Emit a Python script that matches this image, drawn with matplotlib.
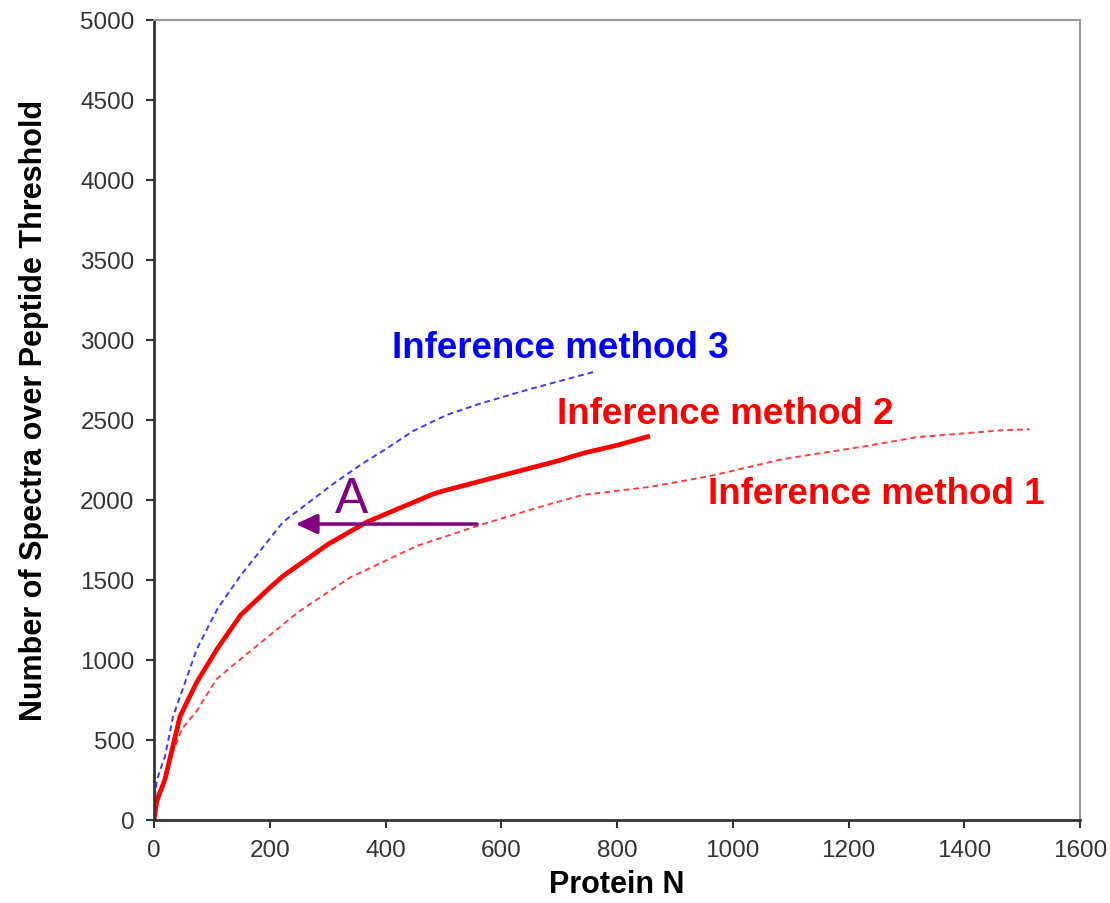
import matplotlib.pyplot as plt

plt.rcParams['font.family'] = ['Liberation Sans', 'DejaVu Sans']

# Inference method 1 (thin dashed red)
m1_x = [0, 20, 48, 74, 108, 171, 250, 339, 454, 569, 684, 741, 857, 961, 1087, 1232, 1318, 1470, 1513]
m1_y = [0, 300, 566, 680, 879, 1067, 1300, 1514, 1711, 1848, 1973, 2030, 2080, 2148, 2254, 2336, 2391, 2435, 2440]

# Inference method 2 (thick solid red)
m2_x = [0, 5, 19, 45, 74, 109, 150, 200, 223, 300, 368, 400, 482, 500, 598, 700, 741, 800, 857]
m2_y = [0, 120, 253, 646, 860, 1067, 1280, 1450, 1523, 1720, 1861, 1910, 2035, 2055, 2148, 2245, 2290, 2340, 2398]

# Inference method 3 (dashed blue)
m3_x = [0, 5, 19, 33, 74, 110, 149, 223, 310, 360, 402, 448, 506, 563, 650, 759]
m3_y = [80, 250, 396, 646, 1067, 1320, 1523, 1861, 2100, 2225, 2320, 2430, 2530, 2600, 2692, 2798]

x_ticks = list(range(0, 1601, 200))
y_ticks = list(range(0, 5001, 500))

fig = plt.figure(figsize=(11.1, 9.04), dpi=100)
ax = fig.add_axes([154 / 1110, 1 - 820.7 / 904, 926 / 1110, 800 / 904])

ax.plot(m1_x, m1_y, color='#ff4040', lw=1.4, dashes=(3, 2))
ax.plot(m3_x, m3_y, color='#3a3aff', lw=1.4, dashes=(3, 2))
ax.plot(m2_x, m2_y, color='#ff0000', lw=3.4, solid_capstyle='butt')

ax.set_xlim(0, 1600)
ax.set_ylim(0, 5000)
ax.set_xticks(x_ticks)
ax.set_yticks(y_ticks)
ax.tick_params(direction='out', length=6, width=1.5, color='#333333',
               labelsize=17.5, labelcolor='#333333', pad=8)

for side in ['left', 'bottom']:
    ax.spines[side].set_color('#333333')
    ax.spines[side].set_linewidth(2)
for side in ['top', 'right']:
    ax.spines[side].set_color('#999999')
    ax.spines[side].set_linewidth(1.5)

ax.set_xlabel('Protein N', fontsize=22, fontweight='bold', labelpad=6)
ax.set_ylabel('Number of Spectra over Peptide Threshold', fontsize=22, fontweight='bold')
ax.yaxis.set_label_coords(-0.113, 0.513)

# series labels
ax.text(411, 2954, 'Inference method 3', color='#0000ff', fontsize=26.5, fontweight='bold', va='center')
ax.text(696, 2536, 'Inference method 2', color='#ff0000', fontsize=26.5, fontweight='bold', va='center')
ax.text(957, 2036, 'Inference method 1', color='#ff0000', fontsize=26.5, fontweight='bold', va='center')

# arrow A
ax.annotate('', xy=(240, 1848), xytext=(563, 1848),
            arrowprops=dict(arrowstyle='-|>,head_length=1.3,head_width=0.6', color='#800080', lw=2.5))
ax.text(342, 2004, 'A', color='#800080', fontsize=36, ha='center', va='center')

plt.savefig('out.png', dpi=100)
